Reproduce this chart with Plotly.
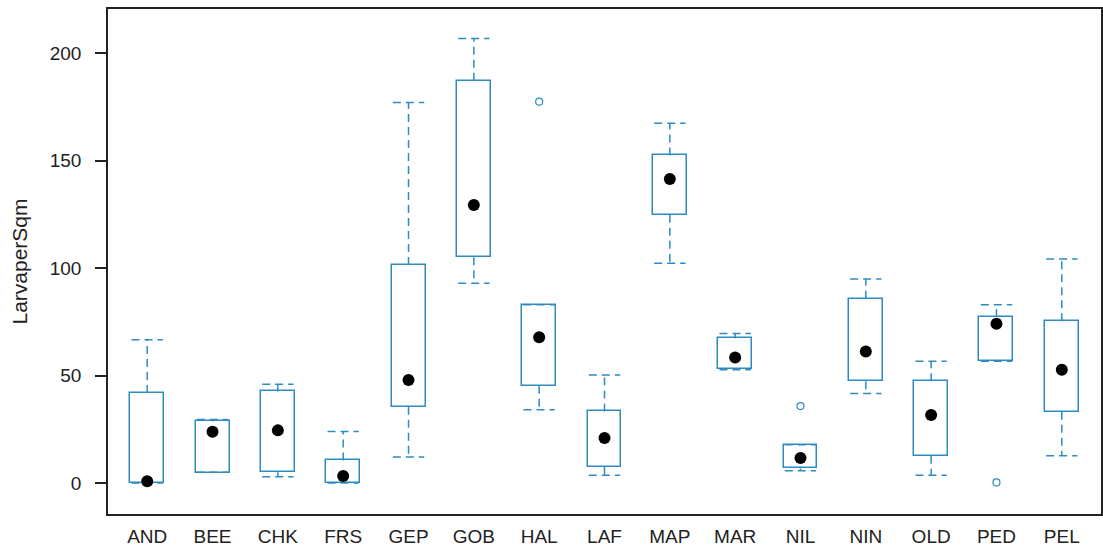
import plotly.graph_objects as go

categories = ["AND", "BEE", "CHK", "FRS", "GEP", "GOB", "HAL", "LAF", "MAP", "MAR", "NIL", "NIN", "OLD", "PED", "PEL"]
lower_whisker = [0.0, 5.0, 2.9, 0.0, 12.1, 92.9, 34.1, 3.6, 102.2, 52.7, 5.7, 41.7, 3.6, 56.7, 12.7]
q1 = [0.0, 4.6, 5.0, 0.0, 35.5, 105.0, 45.3, 7.6, 124.8, 53.0, 6.8, 47.4, 12.7, 56.7, 33.2]
median = [0.8, 23.9, 24.5, 3.3, 47.9, 129.3, 67.8, 20.9, 141.4, 58.4, 11.6, 61.2, 31.6, 74.1, 52.7]
q3 = [41.9, 28.7, 42.6, 10.5, 101.4, 187.1, 82.9, 33.3, 152.4, 67.3, 17.8, 85.7, 47.4, 77.2, 75.3]
upper_whisker = [66.7, 29.5, 46.0, 24.0, 177.0, 206.8, 82.9, 50.2, 167.3, 69.6, 17.8, 94.9, 56.6, 82.9, 104.2]
outlier_cat = ["HAL", "NIL", "PED"]
outlier_val = [177.4, 35.8, 0.3]

y_ticks = [0, 50, 100, 150, 200]

BLUE = "#2e8bc0"
BOX_W = 0.52
CAP_W = 0.48

idx = list(range(len(categories)))
pos = {c: i for i, c in enumerate(categories)}

fig = go.Figure()

# boxes
fig.add_trace(go.Bar(
    x=idx, base=q1, y=[b - a for a, b in zip(q1, q3)], width=BOX_W,
    marker=dict(color="white", line=dict(color=BLUE, width=1.5)),
    hoverinfo="skip", showlegend=False,
))

# whiskers (dashed)
wx, wy = [], []
for i in idx:
    wx += [i, i, None, i - CAP_W / 2, i + CAP_W / 2, None]
    wy += [q3[i], upper_whisker[i], None, upper_whisker[i], upper_whisker[i], None]
    wx += [i, i, None, i - CAP_W / 2, i + CAP_W / 2, None]
    wy += [q1[i], lower_whisker[i], None, lower_whisker[i], lower_whisker[i], None]
fig.add_trace(go.Scatter(
    x=wx, y=wy, mode="lines", line=dict(color=BLUE, width=1.5, dash="8px,5px"),
    hoverinfo="skip", showlegend=False,
))

# medians
fig.add_trace(go.Scatter(
    x=idx, y=median, mode="markers",
    marker=dict(color="black", size=12, symbol="circle"),
    showlegend=False,
))

# outliers
fig.add_trace(go.Scatter(
    x=[pos[c] for c in outlier_cat], y=outlier_val, mode="markers",
    marker=dict(color=BLUE, size=7, symbol="circle-open", line=dict(width=1.2)),
    showlegend=False,
))

fig.update_layout(
    width=1103, height=550,
    margin=dict(l=108, r=2, t=9, b=36, autoexpand=False),
    plot_bgcolor="white", paper_bgcolor="white",
    font=dict(family="Liberation Sans, Arial, sans-serif", size=19, color="#222222"),
    bargap=0,
)
fig.update_xaxes(
    range=[-0.6, len(categories) - 0.4],
    tickvals=idx, ticktext=categories,
    showline=True, linecolor="#222222", linewidth=1.5, mirror=True,
    showgrid=False, zeroline=False, ticks="",
    tickfont=dict(size=19), ticklabelstandoff=4,
    automargin=False,
)
fig.update_yaxes(
    range=[-14.4, 220.5],
    tickvals=y_ticks, ticktext=[str(v) for v in y_ticks],
    showline=True, linecolor="#222222", linewidth=1.5, mirror=True,
    showgrid=False, zeroline=False, ticks="outside", ticklen=11, tickcolor="#222222",
    tickwidth=1.5,
    tickfont=dict(size=19), ticklabelstandoff=10,
    title=dict(text="LarvaperSqm", font=dict(size=21), standoff=16),
    automargin=False,
)

fig.write_html(
    "out.html",
    config={"displayModeBar": False},
    post_script="document.body.style.margin='0';document.body.style.overflow='hidden';",
)
